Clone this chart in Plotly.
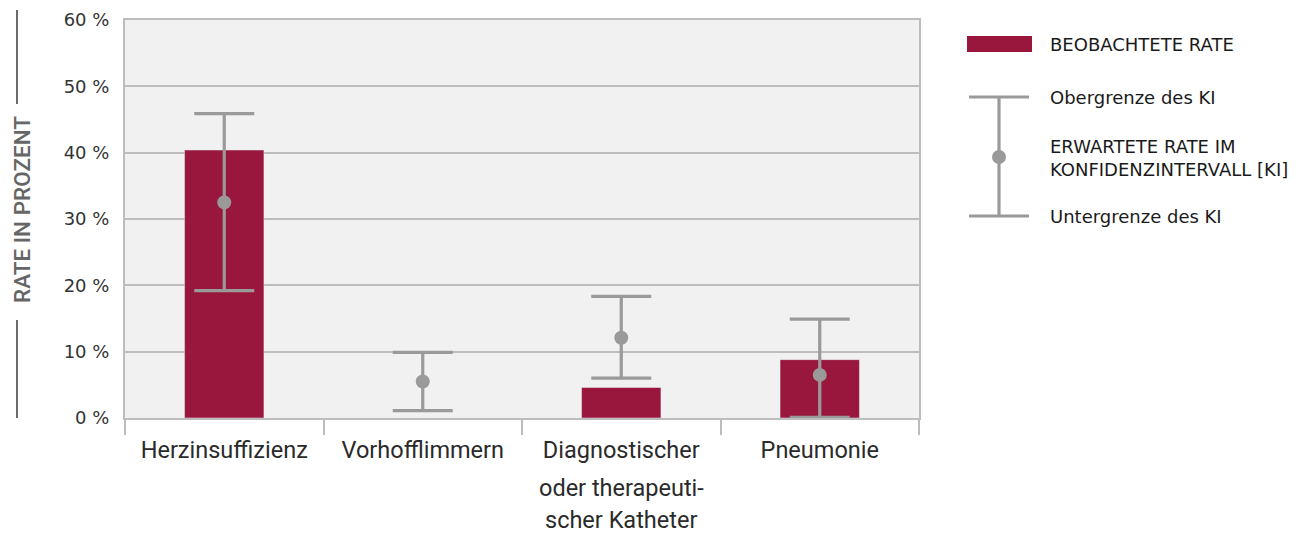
import plotly.graph_objects as go

categories = ["Herzinsuffizienz", "Vorhofflimmern",
              "Diagnostischer oder therapeutischer Katheter", "Pneumonie"]
label_lines = [["Herzinsuffizienz"], ["Vorhofflimmern"],
               ["Diagnostischer", "oder therapeuti-", "scher Katheter"], ["Pneumonie"]]
observed = [40.4, 0.0, 4.6, 8.8]
expected = [32.5, 5.5, 12.1, 6.5]
ci_upper = [45.9, 9.9, 18.35, 14.9]
ci_lower = [19.2, 1.1, 6.0, 0.1]
y_ticks = [0, 10, 20, 30, 40, 50, 60]
y_tick_labels = ["0 %", "10 %", "20 %", "30 %", "40 %", "50 %", "60 %"]

BAR = "#99173d"
GREY = "#9a9a9a"
AX = "#bdbdbd"
XFONT = dict(family="Roboto", size=23.5, color="#2a2a2a")

fig = go.Figure()
fig.add_trace(go.Bar(x=categories, y=observed, marker_color=BAR, width=0.4,
                     showlegend=False, hoverinfo="skip"))
fig.add_trace(go.Scatter(
    x=categories, y=expected, mode="markers",
    marker=dict(color=GREY, size=14),
    error_y=dict(type="data", symmetric=False,
                 array=[u - e for u, e in zip(ci_upper, expected)],
                 arrayminus=[e - l for e, l in zip(expected, ci_lower)],
                 color=GREY, thickness=3.2, width=30),
    showlegend=False, hoverinfo="skip"))

# page body has an 8px margin, so compensate
fig.update_layout(
    width=1301, height=527,
    margin=dict(l=117, r=390, t=12, b=117),
    plot_bgcolor="#f1f1f1", paper_bgcolor="white",
    font=dict(family="DejaVu Sans", color="#333"),
    bargap=0.6,
)
fig.update_xaxes(
    type="category", showline=True, linecolor=AX, linewidth=2, mirror=True,
    ticks="outside", tickson="boundaries", ticklen=15, tickcolor=AX, tickwidth=2,
    tickvals=categories, ticktext=[lines[0] for lines in label_lines],
    tickfont=XFONT, ticklabelstandoff=10, automargin=False,
    showgrid=False,
)
fig.update_yaxes(
    range=[0, 60], tickvals=y_ticks, ticktext=y_tick_labels,
    showline=True, linecolor=AX, linewidth=2, mirror=True,
    gridcolor=AX, gridwidth=1.5, zeroline=False,
    tickfont=dict(family="DejaVu Sans", size=18, color="#333"),
    ticks="", ticklabelstandoff=10, automargin=False,
)

def lx(x):
    return (x - 125) / 794

def ly(y):
    return (418 - y) / 398

shapes = []
# y-axis title decoration lines
shapes.append(dict(type="line", xref="paper", yref="paper",
                   x0=lx(17), x1=lx(17), y0=ly(10), y1=ly(104),
                   line=dict(color="#6b6b6b", width=2)))
shapes.append(dict(type="line", xref="paper", yref="paper",
                   x0=lx(17), x1=lx(17), y0=ly(320), y1=ly(418),
                   line=dict(color="#6b6b6b", width=2)))

# legend: bar swatch
shapes.append(dict(type="rect", xref="paper", yref="paper",
                   x0=lx(967), x1=lx(1032), y0=ly(52), y1=ly(36),
                   fillcolor=BAR, line=dict(width=0)))
# legend: error bar
shapes.append(dict(type="line", xref="paper", yref="paper",
                   x0=lx(999), x1=lx(999), y0=ly(97), y1=ly(216),
                   line=dict(color=GREY, width=3.2)))
for yy in (97, 216):
    shapes.append(dict(type="line", xref="paper", yref="paper",
                       x0=lx(969), x1=lx(1029), y0=ly(yy), y1=ly(yy),
                       line=dict(color=GREY, width=3.2)))
shapes.append(dict(type="circle", xref="paper", yref="paper",
                   x0=lx(992), x1=lx(1006), y0=ly(150), y1=ly(164),
                   fillcolor=GREY, line=dict(width=0)))

annotations = [
    dict(text="RATE IN PROZENT", xref="paper", yref="paper",
         x=lx(22), y=ly(209), textangle=-90, showarrow=False, borderpad=0,
         font=dict(family="Roboto", size=22.5, weight=500, color="#666666"),
         xanchor="center", yanchor="middle"),
]
# continuation lines of the multi-line category label
for cat, lines in zip(categories, label_lines):
    for i, line in enumerate(lines[1:], start=1):
        annotations.append(dict(text=line, xref="x", yref="paper", x=cat, y=0,
                                yanchor="middle", xanchor="center", showarrow=False,
                                yshift=-(38 + 32 * i), font=XFONT))

leg_font = dict(family="DejaVu Sans", size=18, color="#1a1a1a")
for txt, yy in [("BEOBACHTETE RATE", 44), ("Obergrenze des KI", 97),
                ("ERWARTETE RATE IM<br>KONFIDENZINTERVALL [KI]", 158),
                ("Untergrenze des KI", 216)]:
    annotations.append(dict(text=txt, xref="paper", yref="paper",
                            x=lx(1048), y=ly(yy), showarrow=False,
                            xanchor="left", yanchor="middle", align="left",
                            font=leg_font))

fig.update_layout(shapes=shapes, annotations=annotations)
fig.write_html("out.html")
